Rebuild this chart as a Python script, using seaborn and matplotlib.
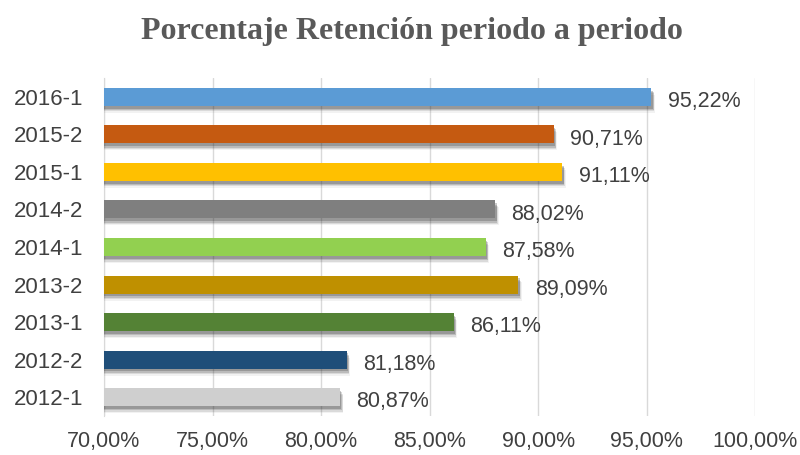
import matplotlib
matplotlib.use("Agg")
import matplotlib.pyplot as plt
import matplotlib.patheffects as pe
from matplotlib.ticker import FuncFormatter
import seaborn as sns
import pandas as pd

periodos = ["2016-1", "2015-2", "2015-1", "2014-2", "2014-1",
            "2013-2", "2013-1", "2012-2", "2012-1"]
retencion = [95.22, 90.71, 91.11, 88.02, 87.58, 89.09, 86.11, 81.18, 80.87]
colores = ["#5B9BD5", "#C55A11", "#FFC000", "#7F7F7F", "#92D050",
           "#BF9000", "#548235", "#1F4E79", "#CFCFCF"]

df = pd.DataFrame({"periodo": periodos, "retencion": retencion})

sns.set_style("white")
plt.rcParams['font.family'] = ['Liberation Sans', 'DejaVu Sans']

fig = plt.figure(figsize=(8, 4.55), dpi=100)
ax = fig.add_axes([0.13, 0.0857, 0.814, 0.7429])

sns.barplot(data=df, x="retencion", y="periodo", hue="periodo",
            palette=colores, order=periodos, hue_order=periodos,
            width=0.48, saturation=1, linewidth=0, legend=False, ax=ax, zorder=3)

# soft drop shadow made of a few offset layers
sombra = [pe.SimplePatchShadow(offset=(dx, -dy), shadow_rgbFace="#303030", alpha=a)
          for dx, dy, a in [(1, 2, 0.25), (1.5, 3, 0.18), (2, 4, 0.12), (2.5, 5, 0.06)]]
for bar in ax.patches:
    bar.set_path_effects(sombra + [pe.Normal()])

for bar, val in zip(ax.patches, retencion):
    ax.text(val + 0.75, bar.get_y() + bar.get_height() / 2 + 0.06,
            f"{val:.2f}%".replace(".", ","), va="center_baseline", ha="left",
            fontsize=15.5, color="#404040")

ax.set_xlim(70, 100)
ax.set_xticks([70, 75, 80, 85, 90, 95, 100])
ax.xaxis.set_major_formatter(FuncFormatter(lambda v, p: f"{v:.2f}%".replace(".", ",")))
ax.grid(axis="x", color="#D9D9D9", linewidth=1, zorder=0)
ax.set_axisbelow(True)
for s in ["top", "right", "bottom"]:
    ax.spines[s].set_visible(False)
ax.spines["left"].set_color("#D9D9D9")
ax.tick_params(axis="both", length=0, labelcolor="#404040")
ax.tick_params(axis="x", pad=11, labelsize=15.5)
ax.tick_params(axis="y", pad=15, labelsize=16)
ax.set_xlabel("")
ax.set_ylabel("")

fig.text(0.515, 0.93, "Porcentaje Retención periodo a periodo",
         ha="center", va="center", fontsize=23, fontweight="bold",
         color="#595959", family="Liberation Serif")

fig.savefig("out.png", dpi=100)
